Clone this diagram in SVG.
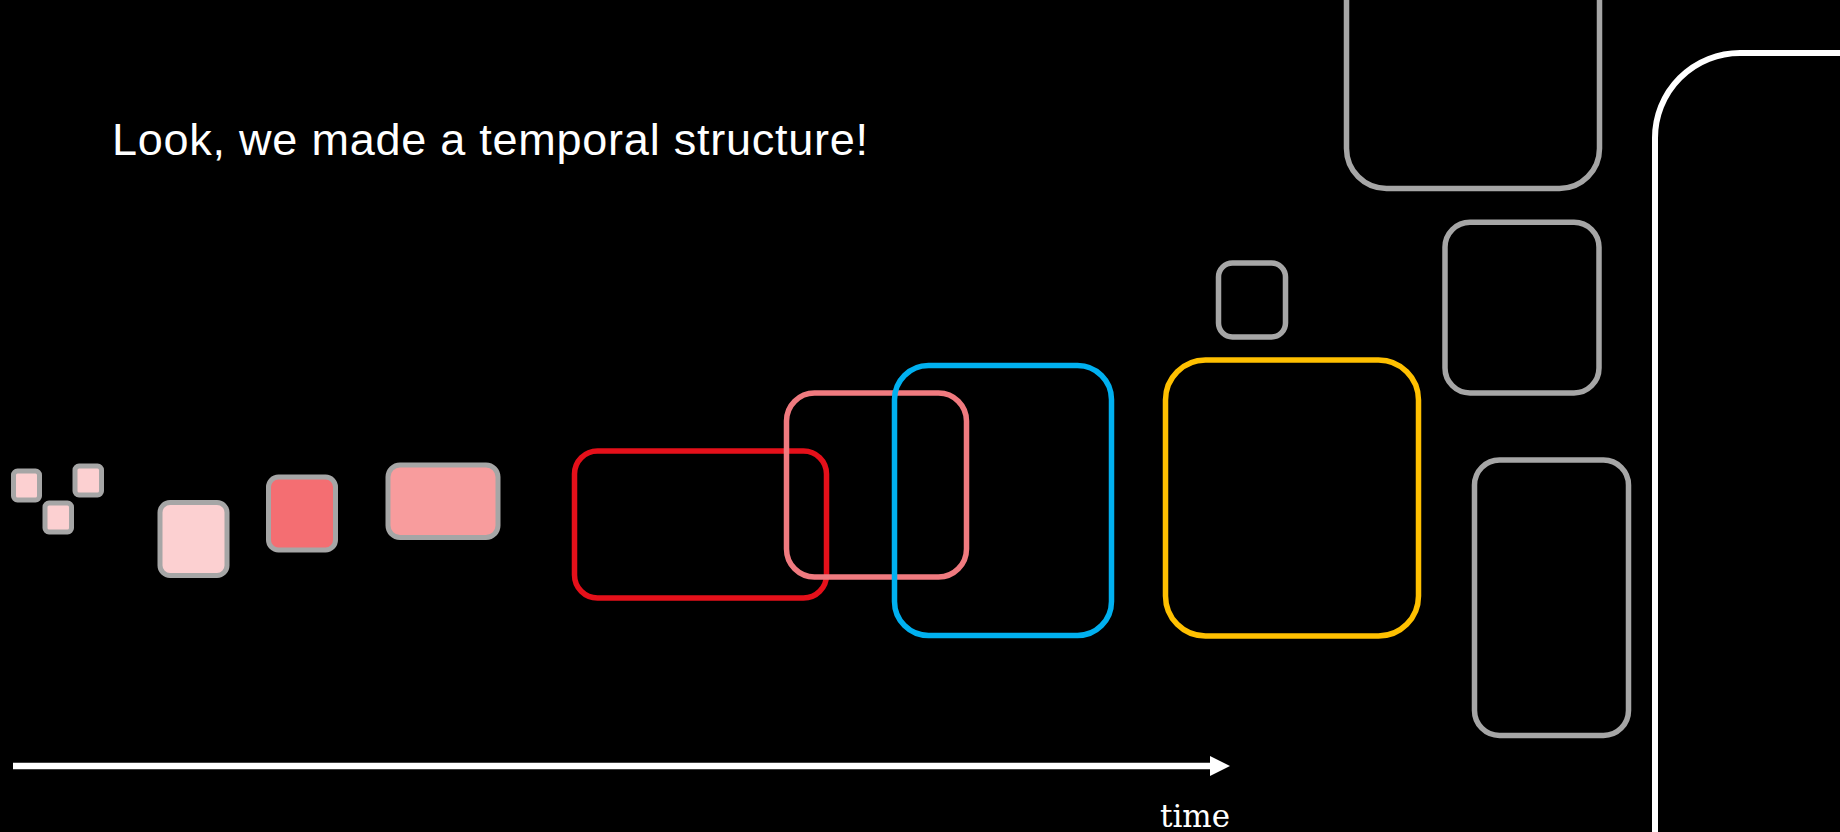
<svg xmlns="http://www.w3.org/2000/svg" width="1840" height="832" viewBox="0 0 1840 832">
  <style>
    .bg { fill: #000000; }
    .chip { stroke: #A6A6A6; stroke-width: 5; }
    .light { fill: #FCD0D1; }
    .mid { fill: #F89C9D; }
    .deep { fill: #F46E72; }
    .frame { fill: none; stroke-width: 5.5; }
    .ghost { fill: none; stroke: #A6A6A6; stroke-width: 5.5; }
    .title { font-family: "Liberation Sans", Arial, sans-serif; font-size: 45px; fill: #FFFFFF; }
    .axis-label { font-family: "DejaVu Serif", "Liberation Serif", serif; font-size: 31px; fill: #FFFFFF; }
  </style>
  <defs>
    <marker id="arrowhead" viewBox="0 0 20 20" refX="0" refY="10" markerWidth="20" markerHeight="20" markerUnits="userSpaceOnUse" orient="auto">
      <path d="M0,0 L20,10 L0,20 Z" fill="#FFFFFF"/>
    </marker>
  </defs>

  <rect class="bg" x="0" y="0" width="1840" height="832"/>

  <text class="title" x="112" y="155" textLength="756" lengthAdjust="spacing">Look, we made a temporal structure!</text>

  <!-- early, filled chunks -->
  <g id="chip-a"><rect class="chip light" x="13.5" y="471" width="26" height="29" rx="4"/></g>
  <g id="chip-b"><rect class="chip light" x="75" y="466" width="26.5" height="29" rx="4"/></g>
  <g id="chip-c"><rect class="chip light" x="45" y="503" width="26.5" height="29" rx="4"/></g>
  <g id="block-light"><rect class="chip light" x="160" y="502.5" width="67" height="73" rx="10"/></g>
  <g id="block-deep"><rect class="chip deep" x="268.5" y="477" width="67" height="73" rx="10"/></g>
  <g id="block-mid"><rect class="chip mid" x="388" y="465" width="110" height="72.5" rx="12"/></g>

  <!-- overlapping outlined spans -->
  <g id="span-red"><rect class="frame" stroke="#E5101A" x="574.5" y="451" width="252" height="147" rx="23"/></g>
  <g id="span-pink"><rect class="frame" stroke="#F07A7F" x="786.5" y="393" width="180" height="184" rx="28"/></g>
  <g id="span-blue"><rect class="frame" stroke="#00B0F0" x="894.5" y="365.5" width="217" height="270" rx="34"/></g>
  <g id="span-yellow"><rect class="frame" stroke="#FFC000" x="1165.5" y="360" width="253" height="276" rx="40"/></g>

  <!-- grey outlines -->
  <g id="ghost-small"><rect class="ghost" x="1218.5" y="263" width="67" height="74" rx="14"/></g>
  <g id="ghost-top"><rect class="ghost" x="1346.5" y="-80" width="253" height="268.5" rx="40"/></g>
  <g id="ghost-middle"><rect class="ghost" x="1445" y="222.3" width="154" height="170.7" rx="25"/></g>
  <g id="ghost-bottom"><rect class="ghost" x="1474.5" y="460" width="154" height="275.5" rx="25"/></g>

  <!-- large white container running off the edge -->
  <g id="container"><rect fill="none" stroke="#FFFFFF" stroke-width="6" x="1655" y="53" width="400" height="900" rx="85"/></g>

  <g id="connectors">
    <line x1="13" y1="766" x2="1210" y2="766" stroke="#FFFFFF" stroke-width="6.5" marker-end="url(#arrowhead)"/>
  </g>

  <text class="axis-label" x="1160" y="827">time</text>
</svg>
